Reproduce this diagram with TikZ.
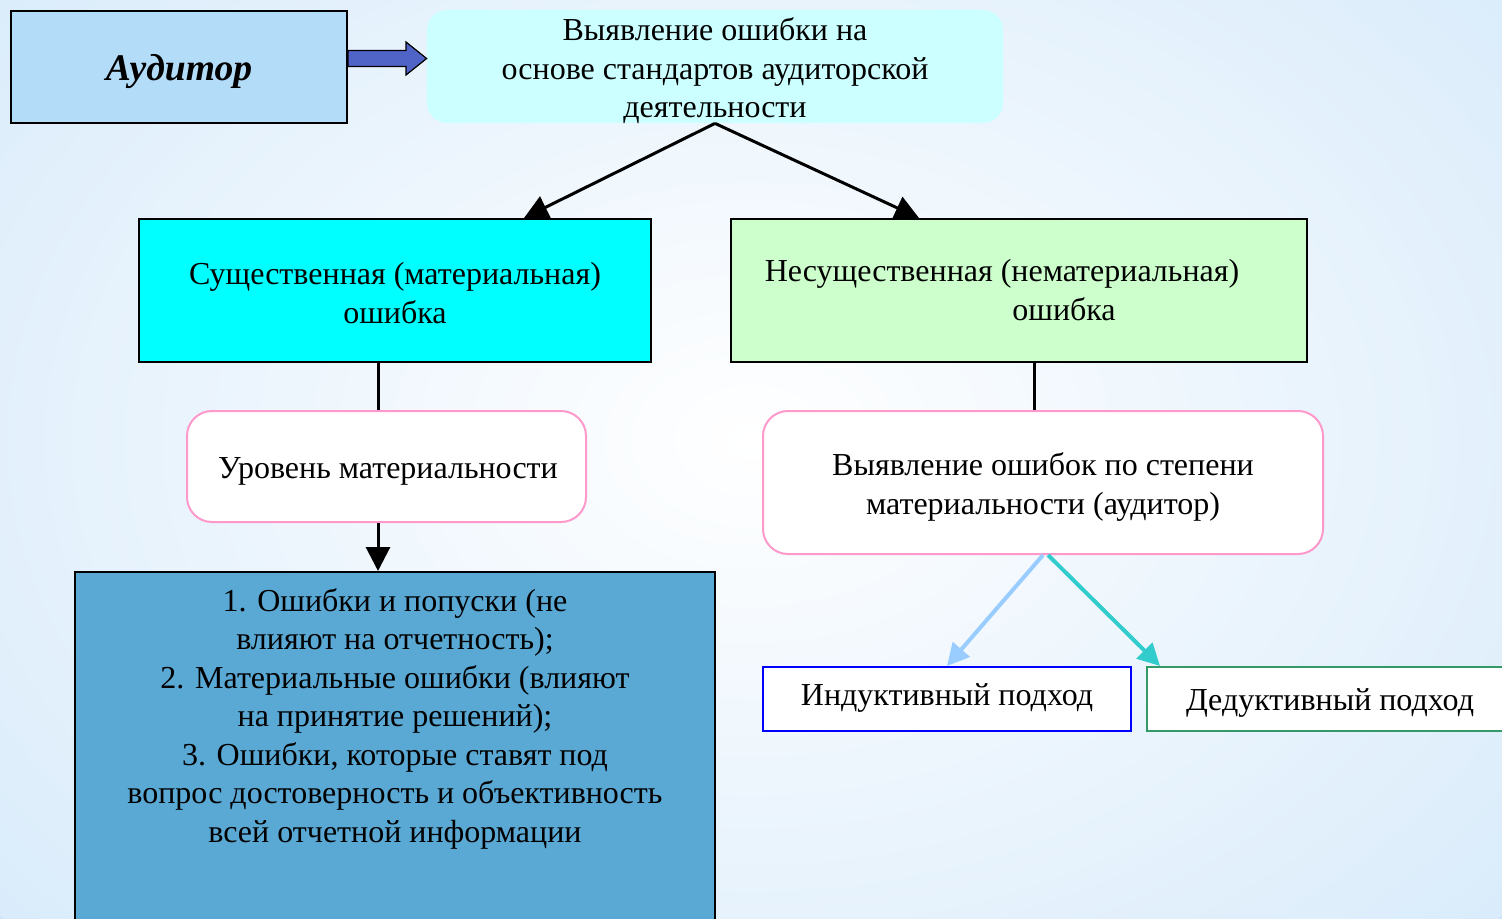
\documentclass[tikz,border=0pt]{standalone}
\usepackage{fontspec}
\setmainfont{Liberation Serif}
\usetikzlibrary{arrows.meta,calc}
\definecolor{bgblue}{RGB}{205,229,249}
\definecolor{audfill}{RGB}{179,220,248}
\definecolor{topfill}{RGB}{204,255,255}
\definecolor{cyanfill}{RGB}{0,255,255}
\definecolor{greenfill}{RGB}{204,255,204}
\definecolor{pinkline}{RGB}{255,153,204}
\definecolor{bluefill}{RGB}{90,168,212}
\definecolor{arrowfill}{RGB}{80,100,200}
\definecolor{indline}{RGB}{0,0,255}
\definecolor{dedline}{RGB}{51,153,102}
\definecolor{ltarrow}{RGB}{153,204,255}
\definecolor{tealarrow}{RGB}{51,204,204}
\tikzset{
  txt/.style={font=\fontsize{16}{19.25}\selectfont, align=center, inner sep=0pt},
  blk/.style={line width=1.5pt, -{Triangle[length=12pt,width=12pt]}},
  plain/.style={line width=1.5pt},
}
\begin{document}
\begin{tikzpicture}[x=0.5pt,y=-0.5pt]
\useasboundingbox (0,0) rectangle (1502,919);
\clip (0,0) rectangle (1502,919);
\fill[bgblue] (0,0) rectangle (1502,919);
\shade[inner color=white, outer color=bgblue!75!white] (751,440) ellipse [x radius=1000, y radius=720];

% nodes
\node[draw=black, line width=1pt, fill=audfill, minimum width=168pt, minimum height=56pt] (aud) at (179,67) {};
\node[font=\fontsize{18.8}{22}\selectfont\bfseries\itshape, inner sep=0pt] (audtxt) at (179,72) {Аудитор};
\node[fill=topfill, rounded corners=10pt, minimum width=288pt, minimum height=56.5pt] (top) at (715,66.5) {};
\node[txt] (toptxt) at (715,71) {Выявление ошибки на\\основе стандартов аудиторской\\деятельности};

\node[draw=black, line width=1pt, fill=cyanfill, minimum width=256pt, minimum height=71.5pt] (ls) at (395,290.5) {};
\node[txt] (lstxt) at (395,293) {Существенная (материальная)\\ошибка};
\node[draw=black, line width=1pt, fill=greenfill, minimum width=288pt, minimum height=71.5pt] (rs) at (1019,290.5) {};
\node[txt] (rstxt) at (1002,290) {Несущественная (нематериальная)\\\hspace*{62pt}ошибка};

\node[draw=pinkline, line width=1pt, fill=white, rounded corners=12.5pt, minimum width=199.5pt, minimum height=55.5pt] (lv) at (386.5,466.5) {};
\node[txt] (lvtxt) at (388,471) {Уровень материальности};
\node[draw=pinkline, line width=1pt, fill=white, rounded corners=12.5pt, minimum width=280pt, minimum height=71.5pt] (rp) at (1043,482.5) {};
\node[txt] (rptxt) at (1043,487) {Выявление ошибок по степени\\материальности (аудитор)};

\node[draw=black, line width=1pt, fill=bluefill, minimum width=320pt, minimum height=190pt, anchor=north] (bb) at (395,571) {};
\node[txt, anchor=north] (bbtxt) at (395,588) {1. Ошибки и попуски (не\\влияют на отчетность);\\2. Материальные ошибки (влияют\\на принятие решений);\\3. Ошибки, которые ставят под\\вопрос достоверность и объективность\\всей отчетной информации};

\node[draw=indline, line width=1pt, fill=white, minimum width=184pt, minimum height=32pt] (ind) at (947,699) {};
\node[txt] (indtxt) at (947,698) {Индуктивный подход};
\node[draw=dedline, line width=1pt, fill=white, minimum width=184pt, minimum height=32pt, anchor=west] (ded) at (1146,699) {};
\node[txt] (dedtxt) at (1330,703) {Дедуктивный подход};

% block arrow from Auditor to top box
\draw[fill=arrowfill, line width=0.6pt]
  (aud.east |- 0,50.5) -- (406,50.5) -- (406,42) -- (top.west |- 0,58.5) -- (406,75) -- (406,66.5) -- (aud.east |- 0,66.5) -- cycle;

% connectors
\draw[blk] (top.south) -- ($(ls.north west)+(386,0)$);
\draw[blk] (top.south) -- ($(rs.north west)+(189,0)$);
\draw[plain] ($(ls.south west)+(240,0)$) coordinate (a) -- (a |- lv.north);
\draw[blk] (a |- lv.south) -- (a |- bb.north);
\draw[plain] ($(rs.south west)+(304,0)$) coordinate (b) -- (b |- rp.north);
\draw[ltarrow, line width=2pt, -{Triangle[length=11pt,width=11pt]}] (rp.south) -- ($(ind.north west)+(185,0)$);
\draw[tealarrow, line width=2pt, -{Triangle[length=11pt,width=11pt]}] ($(rp.south)+(5,0)$) -- ($(ded.north west)+(14,0)$);
\end{tikzpicture}
\end{document}
